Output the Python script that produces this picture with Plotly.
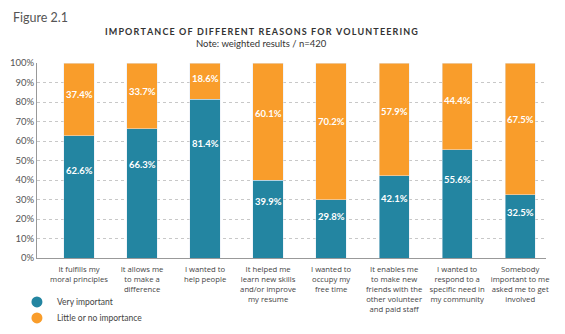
import plotly.graph_objects as go

# Survey results: share of respondents per reason (percent)
reasons = [
    "It fulfills my<br>moral principles",
    "It allows me<br>to make a<br>difference",
    "I wanted to<br>help people",
    "It helped me<br>learn new skills<br>and/or improve<br>my resume",
    "I wanted to<br>occupy my<br>free time",
    "It enables me<br>to make new<br>friends with the<br>other volunteer<br>and paid staff",
    "I wanted to<br>respond to a<br>specific need in<br>my community",
    "Somebody<br>important to me<br>asked me to get<br>involved",
]
very_important = [62.6, 66.3, 81.4, 39.9, 29.8, 42.1, 55.6, 32.5]
little_or_none = [37.4, 33.7, 18.6, 60.1, 70.2, 57.9, 44.4, 67.5]
y_ticks = list(range(0, 101, 10))

BLUE = "#2385a1"
ORANGE = "#f99d2b"
FONT = "Lato"
positions = list(range(len(reasons)))


def tracked(text, gap="\u2009"):
    """Spread the letters of a heading apart with thin spaces."""
    return gap.join(text)


fig = go.Figure()
fig.add_trace(go.Bar(x=positions, y=very_important, marker_color=BLUE,
                     width=0.48, showlegend=False, name="Very important"))
fig.add_trace(go.Bar(x=positions, y=little_or_none, marker_color=ORANGE,
                     width=0.48, showlegend=False, name="Little or no importance"))

# Legend entries drawn as round markers
fig.add_trace(go.Scatter(x=[None], y=[None], mode="markers", name="Very important",
                         marker=dict(color=BLUE, size=11), legend="legend"))
fig.add_trace(go.Scatter(x=[None], y=[None], mode="markers", name="Little or no importance",
                         marker=dict(color=ORANGE, size=11), legend="legend2"))

# Value labels inside the stacked segments
label_font = dict(family=FONT, size=9.5, color="white", weight="bold")
for i, (a, b) in enumerate(zip(very_important, little_or_none)):
    fig.add_annotation(x=i, y=a * 0.72, text=f"{a:.1f}%", showarrow=False, font=label_font)
    fig.add_annotation(x=i, y=a + b * 0.57, text=f"{b:.1f}%", showarrow=False, font=label_font)

fig.add_annotation(xref="paper", yref="paper", x=-0.051, y=1.235, xanchor="left", yanchor="middle",
                   text="Figure 2.1", showarrow=False,
                   font=dict(family=FONT, size=12.5, color="#555"))
fig.add_annotation(xref="paper", yref="paper", x=0.442, y=1.16, xanchor="center", yanchor="middle",
                   text=tracked("IMPORTANCE OF DIFFERENT REASONS FOR VOLUNTEERING"), showarrow=False,
                   font=dict(family=FONT, size=9, color="#333", weight="bold"))
fig.add_annotation(xref="paper", yref="paper", x=0.442, y=1.098, xanchor="center", yanchor="middle",
                   text="Note: weighted results / n=420", showarrow=False,
                   font=dict(family=FONT, size=9.5, color="#333"))

legend_common = dict(xref="container", yref="container", xanchor="left", yanchor="middle",
                     bgcolor="rgba(0,0,0,0)", itemwidth=30,
                     font=dict(family=FONT, size=8.5, color="#444"))
fig.update_layout(
    width=565, height=334,
    margin=dict(l=37, r=19, t=63, b=76, autoexpand=False),
    paper_bgcolor="white", plot_bgcolor="white",
    barmode="stack",
    font=dict(family=FONT),
    legend=dict(x=0.03, y=0.096, **legend_common),
    legend2=dict(x=0.03, y=0.048, **legend_common),
    xaxis=dict(range=[-0.667, 7.41], tickmode="array", tickvals=positions, ticktext=reasons,
               showgrid=False, showline=True, linecolor="#999", linewidth=1,
               ticks="", ticklabelstandoff=4, tickangle=0, automargin=False,
               tickfont=dict(family="Open Sans", size=7.7, color="#444"), fixedrange=True),
    yaxis=dict(range=[0, 100], tickvals=y_ticks, ticktext=[f"{v}%" for v in y_ticks],
               showgrid=True, gridcolor="#c8c8c8", griddash="dot", gridwidth=1,
               showline=True, linecolor="#999", linewidth=1, zeroline=False,
               ticks="", automargin=False,
               tickfont=dict(family=FONT, size=9.5, color="#555"), fixedrange=True),
)

fig.write_html("out.html")
